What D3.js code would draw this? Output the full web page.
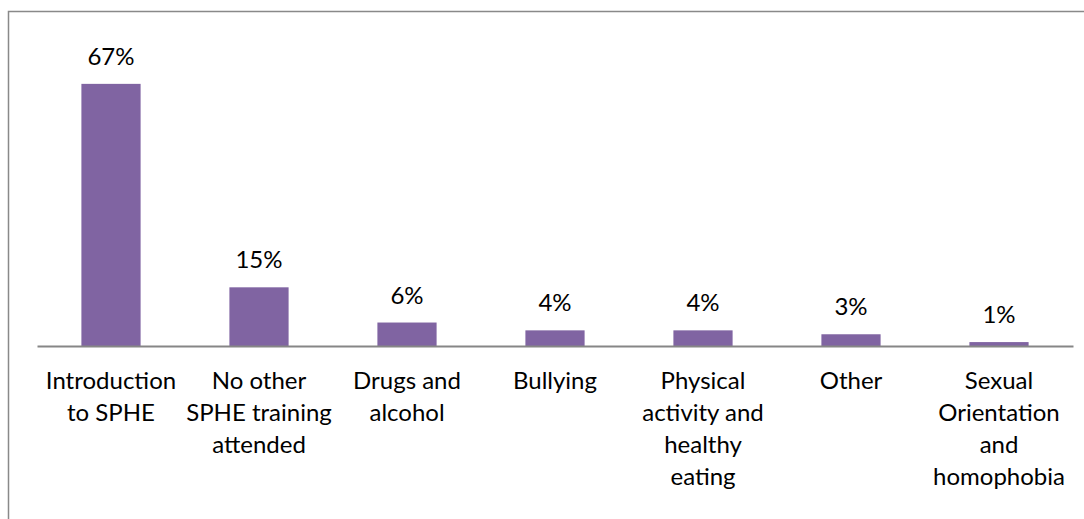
<!DOCTYPE html>
<html>
<head>
<meta charset="utf-8">
<script src="https://cdn.jsdelivr.net/npm/d3@7"></script>
<style>
  html, body { margin: 0; padding: 0; background: #fff; }
  svg { display: block; }
</style>
</head>
<body>
<svg id="chart" width="1084" height="519"></svg>
<script>
const categories = [
  "Introduction\nto SPHE",
  "No other\nSPHE training\nattended",
  "Drugs and\nalcohol",
  "Bullying",
  "Physical\nactivity and\nhealthy\neating",
  "Other",
  "Sexual\nOrientation\nand\nhomophobia"
];
const values = [67, 15, 6, 4, 4, 3, 1];
const valueLabels = ["67%", "15%", "6%", "4%", "4%", "3%", "1%"];

const svg = d3.select("#chart");
const font = "Lato, 'Noto Sans', sans-serif";
const fontSize = 24;

// outer chart border
svg.append("rect")
  .attr("x", 8.5).attr("y", 11.5)
  .attr("width", 1100).attr("height", 600)
  .attr("fill", "none")
  .attr("stroke", "#898989")
  .attr("stroke-width", 1.5);

const x = d3.scaleBand()
  .domain(categories)
  .range([37, 1073])
  .paddingInner(0.6)
  .paddingOuter(0.3);

const y = d3.scaleLinear()
  .domain([0, 80])
  .range([346, 33]);

// bars
svg.append("g").selectAll("rect")
  .data(values)
  .join("rect")
  .attr("x", (d, i) => x(categories[i]))
  .attr("y", d => y(d))
  .attr("width", x.bandwidth())
  .attr("height", d => y(0) - y(d))
  .attr("fill", "#8064A2");

// value labels
svg.append("g").selectAll("text")
  .data(values)
  .join("text")
  .attr("x", (d, i) => x(categories[i]) + x.bandwidth() / 2)
  .attr("y", d => y(d) - 19)
  .attr("text-anchor", "middle")
  .attr("font-family", font)
  .attr("font-size", fontSize)
  .attr("fill", "#000")
  .text((d, i) => valueLabels[i]);

// x axis
const xAxis = d3.axisBottom(x).tickSize(0).tickPadding(0).tickFormat(() => "");
const gx = svg.append("g")
  .attr("transform", `translate(0,${y(0)})`)
  .call(xAxis);
gx.select(".domain").attr("stroke", "#868686").attr("stroke-width", 2);

gx.selectAll(".tick text").each(function(d) {
  const t = d3.select(this);
  t.text(null)
    .attr("font-family", font)
    .attr("font-size", fontSize)
    .attr("fill", "#000")
    .attr("text-anchor", "middle")
    .attr("y", 0)
    .attr("dy", null);
  d.split("\n").forEach((line, i) => {
    t.append("tspan")
      .attr("x", 0)
      .attr("y", 43 + i * 32)
      .text(line);
  });
});
</script>
</body>
</html>
